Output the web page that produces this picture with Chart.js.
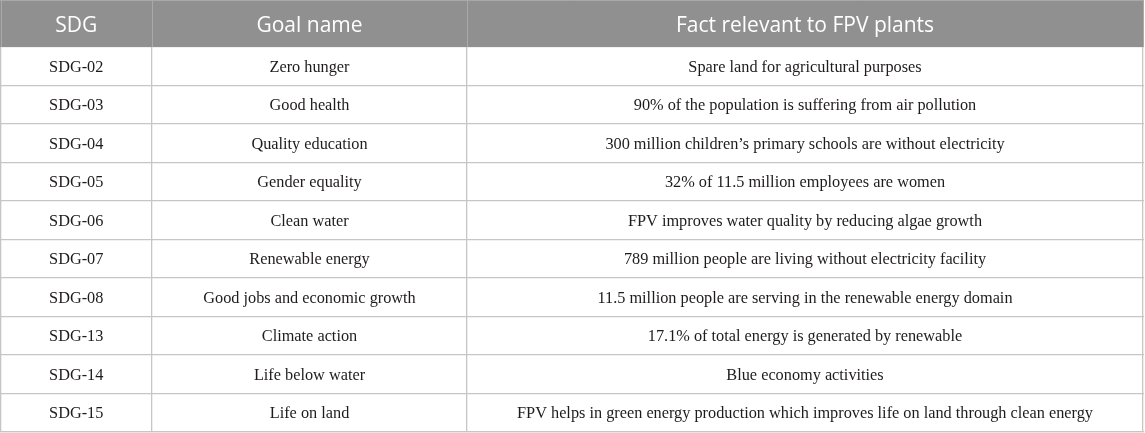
<!DOCTYPE html>
<html>
<head>
<meta charset="utf-8">
<style>
  html, body { margin: 0; padding: 0; background: #ffffff; }
  #wrap { width: 1145px; height: 433px; }
</style>
<script src="https://cdn.jsdelivr.net/npm/chart.js@4.4.1/dist/chart.umd.min.js"></script>
</head>
<body>
<div id="wrap"><canvas id="c" width="1145" height="433"></canvas></div>
<script>
// ---- data ----
const headers = ["SDG", "Goal name", "Fact relevant to FPV plants"];
const sdgCodes = ["SDG-02","SDG-03","SDG-04","SDG-05","SDG-06","SDG-07","SDG-08","SDG-13","SDG-14","SDG-15"];
const goalNames = [
  "Zero hunger",
  "Good health",
  "Quality education",
  "Gender equality",
  "Clean water",
  "Renewable energy",
  "Good jobs and economic growth",
  "Climate action",
  "Life below water",
  "Life on land"
];
const facts = [
  "Spare land for agricultural purposes",
  "90% of the population is suffering from air pollution",
  "300 million children\u2019s primary schools are without electricity",
  "32% of 11.5 million employees are women",
  "FPV improves water quality by reducing algae growth",
  "789 million people are living without electricity facility",
  "11.5 million people are serving in the renewable energy domain",
  "17.1% of total energy is generated by renewable",
  "Blue economy activities",
  "FPV helps in green energy production which improves life on land through clean energy"
];

// ---- layout / style (not data) ----
const COLUMN_EDGES = [0.5, 152, 467, 1143];
const HEADER_H = 47;
const HEADER_BG = "#909090";
const HEADER_LINE = "#a9a9a9";
const GRID = "#c6c6c6";
const BODY_FONT = "16.3px 'Liberation Serif', 'Times New Roman', serif";
const HEAD_FONT = "21px 'Open Sans', 'Noto Sans', sans-serif";

const columns = [sdgCodes, goalNames, facts];

const tablePlugin = {
  id: 'tablePlugin',
  beforeDraw(chart) {
    const ctx = chart.ctx;
    ctx.save();
    ctx.fillStyle = '#ffffff';
    ctx.fillRect(0, 0, chart.width, chart.height);
    ctx.restore();
  },
  afterDraw(chart) {
    const ctx = chart.ctx;
    const xs = chart.scales.x, ys = chart.scales.y;
    const left = xs.getPixelForValue(COLUMN_EDGES[0]);
    const right = xs.getPixelForValue(COLUMN_EDGES[COLUMN_EDGES.length - 1]);
    const top = chart.chartArea.top;
    ctx.save();
    // header band
    ctx.fillStyle = HEADER_BG;
    ctx.fillRect(left - 0.5, 0, right - left + 1, top);
    ctx.strokeStyle = HEADER_LINE;
    ctx.lineWidth = 1;
    ctx.beginPath();
    ctx.moveTo(left - 0.5, 0.5); ctx.lineTo(right + 0.5, 0.5);
    COLUMN_EDGES.forEach(e => {
      const px = Math.round(xs.getPixelForValue(e)) + 0.5;
      ctx.moveTo(px, 0); ctx.lineTo(px, top);
    });
    ctx.stroke();
    // header texts
    ctx.fillStyle = '#ffffff';
    ctx.font = HEAD_FONT;
    ctx.textAlign = 'center';
    ctx.textBaseline = 'middle';
    headers.forEach((h, i) => {
      const cx = (xs.getPixelForValue(COLUMN_EDGES[i]) + xs.getPixelForValue(COLUMN_EDGES[i + 1])) / 2;
      ctx.fillText(h, cx, top / 2 + 2.5);
    });
    // body texts
    ctx.fillStyle = '#1f1b1c';
    ctx.font = BODY_FONT;
    columns.forEach((col, ci) => {
      const cx = (xs.getPixelForValue(COLUMN_EDGES[ci]) + xs.getPixelForValue(COLUMN_EDGES[ci + 1])) / 2;
      col.forEach((txt, ri) => {
        const cy = ys.getPixelForValue(ri);
        ctx.fillText(txt, cx, cy + 1);
      });
    });
    ctx.restore();
  }
};

new Chart(document.getElementById('c'), {
  type: 'scatter',
  data: {
    labels: sdgCodes,
    datasets: [{ data: [], pointRadius: 0 }]
  },
  options: {
    responsive: false,
    animation: false,
    devicePixelRatio: 1,
    layout: { padding: { top: HEADER_H, left: 0, right: 1, bottom: 1 } },
    plugins: { legend: { display: false }, tooltip: { enabled: false }, title: { display: false } },
    events: [],
    scales: {
      x: {
        type: 'linear',
        min: 0,
        max: 1144,
        afterBuildTicks: (scale) => { scale.ticks = COLUMN_EDGES.map(v => ({ value: v })); },
        ticks: { display: false },
        grid: { color: GRID, lineWidth: 1.3, drawTicks: false },
        border: { display: true, color: GRID, width: 1.3 }
      },
      y: {
        type: 'category',
        labels: sdgCodes,
        offset: true,
        ticks: { display: false },
        grid: { offset: true, color: GRID, lineWidth: 1.3, drawTicks: false },
        border: { display: true, color: GRID, width: 1.3 }
      }
    }
  },
  plugins: [tablePlugin]
});
</script>
</body>
</html>
